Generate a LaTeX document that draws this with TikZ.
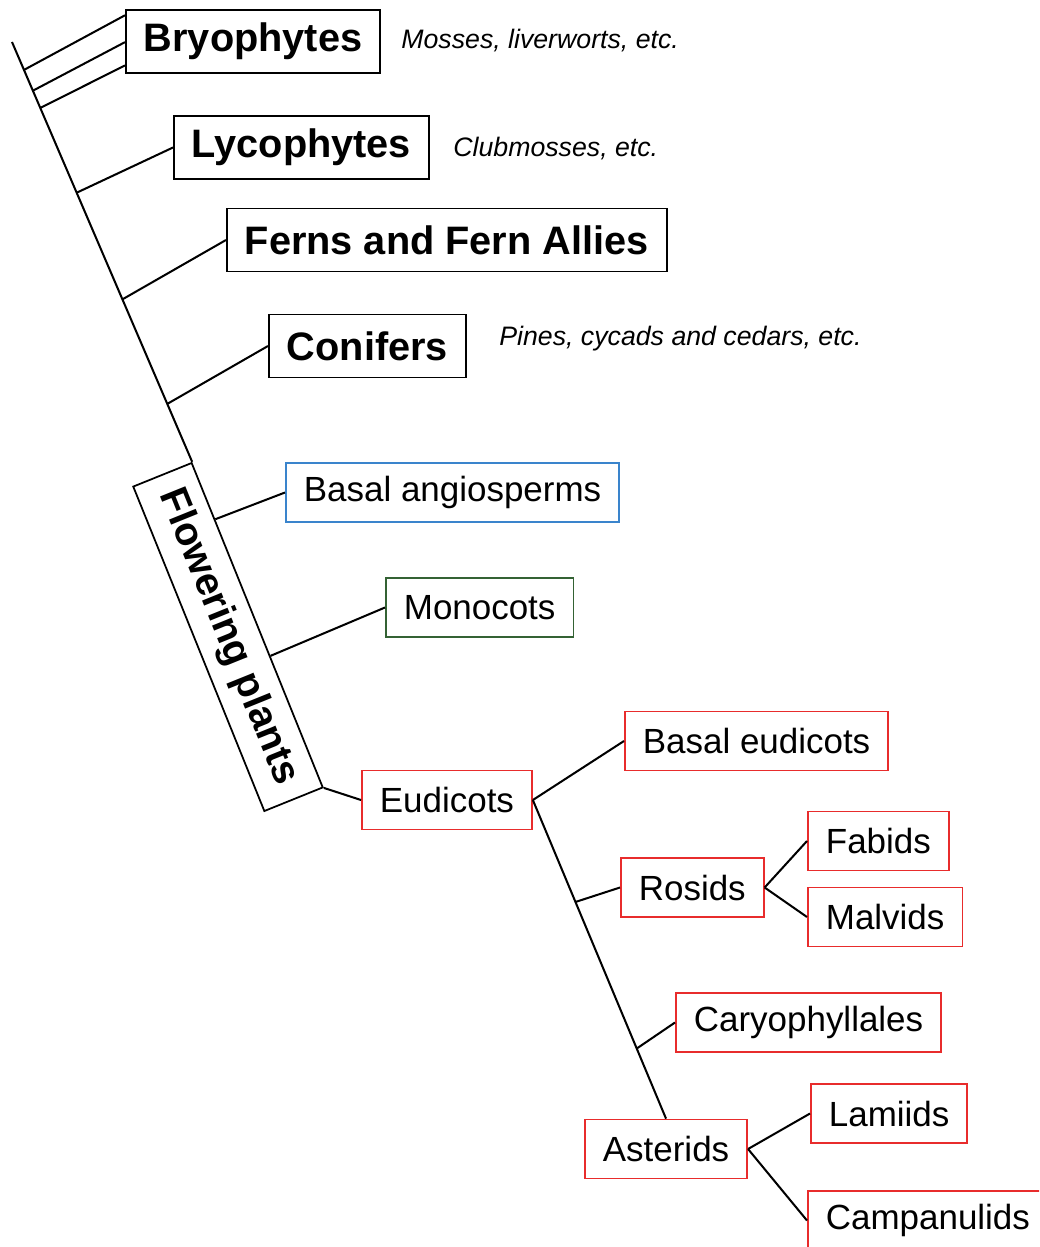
\documentclass[tikz,border=0pt]{standalone}
\usepackage{fontspec}
\setmainfont{Liberation Sans}
\usetikzlibrary{calc}
\definecolor{RD}{RGB}{232,44,44}
\definecolor{BL}{RGB}{58,132,204}
\definecolor{GN}{RGB}{52,98,52}
\definecolor{DK}{RGB}{0,0,0}
\begin{document}
\begin{tikzpicture}[
  x=0.02cm, y=-0.02cm,
  grp/.style={draw=DK, line width=1pt, anchor=west, inner xsep=0.36cm,
    minimum height=1.26cm, font=\fontsize{22.6}{26}\selectfont\bfseries},
  clade/.style={draw=#1, line width=1pt, anchor=west, inner xsep=0.36cm,
    minimum height=1.18cm, font=\fontsize{19.9}{23}\selectfont},
  note/.style={anchor=west, inner sep=0, font=\fontsize{15.2}{18}\selectfont\itshape},
  br/.style={line width=1.15pt, draw=DK}
]
\useasboundingbox (0,0) rectangle (1039,1247);
\clip (0,0) rectangle (1039,1247);

% Land plant groups
\node[grp] (bry)  at (125,41.5) {Bryophytes};
\node[grp] (lyc)  at (173,147.5) {Lycophytes};
\node[grp] (fern) at (226,240)  {Ferns and Fern Allies};
\node[grp] (con)  at (268,346)  {Conifers};

% Notes
\node[note] (n1) at (401,41)  {Mosses, liverworts, etc.};
\node[note] (n2) at (453,149) {Clubmosses, etc.};
\node[note] (n3) at (499,339) {Pines, cycads and cedars, etc.};

% Flowering plants box
\node[draw=DK, line width=1pt, rotate=-68, minimum width=7cm, minimum height=1.26cm,
  font=\fontsize{22.6}{26}\selectfont\bfseries] (fl) at (228,637) {Flowering plants};

% Angiosperm clades
\node[clade=BL] (bas)  at (285,492.5) {Basal angiosperms};
\node[clade=GN] (mono) at (385,607.5) {Monocots};
\node[clade=RD] (eud)  at (361,800)   {Eudicots};
\node[clade=RD] (beud) at (624,741)   {Basal eudicots};
\node[clade=RD] (ros)  at (620,887.5) {Rosids};
\node[clade=RD] (fab)  at (807,841)   {Fabids};
\node[clade=RD] (mal)  at (807,917)   {Malvids};
\node[clade=RD] (car)  at (675,1022.5){Caryophyllales};
\node[clade=RD] (ast)  at (584,1149)  {Asterids};
\node[clade=RD] (lam)  at (810,1113.5){Lamiids};
\node[clade=RD] (camp) at (807,1220.5){Campanulids};

% Main trunk
\coordinate (top) at (12,42);
\draw[br] (top) -- (fl.north west);
\coordinate (t1) at ($(top)!0.0665!(fl.north west)$);
\coordinate (t2) at ($(top)!0.116!(fl.north west)$);
\coordinate (t3) at ($(top)!0.157!(fl.north west)$);
\coordinate (t4) at ($(top)!0.359!(fl.north west)$);
\coordinate (t5) at ($(top)!0.613!(fl.north west)$);
\coordinate (t6) at ($(top)!0.862!(fl.north west)$);

% Branches to groups
\draw[br] (t1) -- ($(bry.north west)!0.095!(bry.south west)$);
\draw[br] (t2) -- ($(bry.north west)!0.51!(bry.south west)$);
\draw[br] (t3) -- ($(bry.north west)!0.87!(bry.south west)$);
\draw[br] (t4) -- (lyc.west);
\draw[br] (t5) -- (fern.west);
\draw[br] (t6) -- (con.west);

% Branches off the flowering plants box
\coordinate (f1) at ($(fl.north west)!0.176!(fl.north east)$);
\coordinate (f2) at ($(fl.north west)!0.595!(fl.north east)$);
\draw[br] (f1) -- (bas.west);
\draw[br] (f2) -- (mono.west);
\draw[br] (fl.north east) -- (eud.west);

% Eudicot tree
\draw[br] (eud.east) -- (beud.west);
\draw[br] (eud.east) -- (ast.north);
\coordinate (e1) at ($(eud.east)!0.32!(ast.north)$);
\coordinate (e2) at ($(eud.east)!0.78!(ast.north)$);
\draw[br] (e1) -- (ros.west);
\draw[br] (e2) -- (car.west);
\draw[br] (ros.east) -- (fab.west);
\draw[br] (ros.east) -- (mal.west);
\draw[br] (ast.east) -- (lam.west);
\draw[br] (ast.east) -- (camp.west);
\end{tikzpicture}
\end{document}
